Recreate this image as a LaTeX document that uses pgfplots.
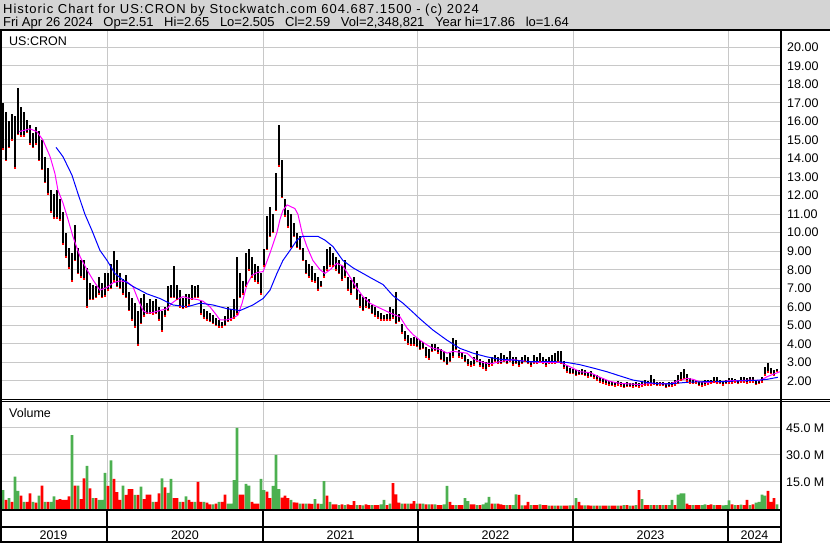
\documentclass[border=0pt]{standalone}
\usepackage{pgfplots}
\pgfplotsset{compat=1.18}
\usepackage{pgfplotstable}
\usepackage{fontspec}
\setmainfont{Liberation Sans}
\newfontfamily\hdrwide[LetterSpace=7.5]{Liberation Sans}
\definecolor{hdr}{RGB}{212,212,212}
\definecolor{gridc}{RGB}{200,200,200}
\definecolor{vgreen}{RGB}{76,176,80}
\definecolor{vred}{RGB}{255,0,0}
\definecolor{mag}{RGB}{255,0,255}
\definecolor{mab}{RGB}{0,0,255}

% weekly high / low, x = week index (3 px per week)
\pgfplotstableread{
w hi lo
0 17.4 16.0
1 17.0 14.5
2 16.5 13.9
3 16.0 14.6
4 16.4 15.0
5 16.3 13.5
6 17.8 15.3
7 16.8 15.2
8 16.5 15.2
9 16.1 15.4
10 15.8 14.8
11 15.4 14.6
12 15.7 14.8
13 15.5 13.9
14 15.0 13.4
15 14.1 12.7
16 13.5 12.1
17 12.3 11.1
18 12.1 10.8
19 12.3 10.8
20 11.8 10.7
21 11.1 9.4
22 10.0 8.7
23 9.2 8.1
24 8.9 7.4
25 10.4 8.5
26 9.2 7.8
27 8.5 7.6
28 8.5 7.5
29 8.1 6.0
30 7.3 6.4
31 7.2 6.4
32 7.1 6.5
33 7.6 6.7
34 7.3 6.5
35 7.8 6.6
36 7.8 6.9
37 8.3 7.0
38 9.0 7.4
39 8.5 7.1
40 7.8 7.0
41 7.5 6.7
42 7.7 6.5
43 6.8 5.8
44 6.5 5.3
45 6.2 4.9
46 5.8 3.95
47 6.5 5.1
48 6.7 5.5
49 6.2 5.65
50 6.4 5.65
51 6.3 5.6
52 6.4 5.65
53 6.0 5.3
54 5.8 4.7
55 6.0 5.5
56 7.1 5.8
57 7.2 6.5
58 8.2 6.5
59 7.2 6.4
60 6.9 6.0
61 6.5 5.9
62 6.7 6.0
63 6.7 6.1
64 7.2 6.4
65 7.1 6.5
66 7.2 6.5
67 6.3 5.6
68 5.9 5.4
69 5.8 5.3
70 5.65 5.2
71 5.55 5.1
72 5.4 5.0
73 5.3 4.9
74 5.2 4.9
75 5.5 5.0
76 6.0 5.2
77 5.9 5.3
78 6.4 5.4
79 8.7 5.6
80 7.8 6.5
81 7.4 6.7
82 8.9 7.1
83 9.1 8.0
84 8.7 7.6
85 8.3 7.4
86 8.2 7.3
87 7.8 6.7
88 9.1 8.2
89 10.9 9.1
90 11.4 9.8
91 11.0 10.0
92 13.2 11.2
93 15.8 13.6
94 13.9 11.9
95 11.8 10.9
96 11.2 10.3
97 11.0 9.2
98 10.5 9.8
99 10.0 9.2
100 9.8 9.1
101 9.2 8.5
102 8.5 7.8
103 8.3 7.6
104 8.2 7.4
105 7.8 7.35
106 7.6 6.9
107 7.4 7.1
108 8.2 7.6
109 9.1 8.0
110 9.25 8.2
111 8.9 8.2
112 8.7 8.0
113 8.5 7.8
114 8.2 7.45
115 8.5 7.6
116 7.6 6.9
117 7.45 6.7
118 7.6 7.0
119 7.3 6.4
120 6.7 6.0
121 6.55 5.8
122 6.55 6.0
123 6.4 5.9
124 6.1 5.65
125 6.0 5.5
126 5.8 5.4
127 5.65 5.3
128 5.55 5.3
129 5.6 5.3
130 6.0 5.3
131 5.9 5.4
132 6.8 5.1
133 5.6 5.2
134 5.1 4.6
135 4.7 4.2
136 4.5 4.0
137 4.3 3.95
138 4.4 3.95
139 4.3 3.85
140 4.2 3.7
141 4.1 3.75
142 3.85 3.3
143 3.75 3.2
144 4.0 3.6
145 4.0 3.65
146 3.85 3.5
147 3.7 3.15
148 3.6 3.05
149 3.3 2.9
150 3.5 3.05
151 4.3 3.3
152 4.2 3.7
153 3.65 3.3
154 3.5 3.25
155 3.4 3.05
156 3.2 2.85
157 3.1 2.8
158 3.3 2.85
159 3.6 3.05
160 3.2 2.8
161 3.1 2.7
162 3.0 2.6
163 3.2 2.8
164 3.3 2.85
165 3.4 3.05
166 3.3 2.95
167 3.5 2.95
168 3.4 3.05
169 3.3 2.95
170 3.6 3.05
171 3.3 2.85
172 3.3 2.95
173 3.1 2.8
174 3.3 2.95
175 3.4 3.05
176 3.3 2.95
177 3.1 2.8
178 3.4 2.95
179 3.3 2.95
180 3.5 3.05
181 3.3 2.95
182 3.2 2.8
183 3.3 2.95
184 3.4 2.95
185 3.5 2.95
186 3.6 3.05
187 3.6 2.95
188 3.1 2.7
189 2.85 2.5
190 2.7 2.4
191 2.65 2.4
192 2.6 2.3
193 2.6 2.35
194 2.65 2.35
195 2.6 2.3
196 2.5 2.2
197 2.55 2.25
198 2.4 2.15
199 2.3 2.05
200 2.23 1.96
201 2.15 1.9
202 2.05 1.85
203 2.0 1.8
204 1.96 1.75
205 1.96 1.73
206 2.0 1.8
207 1.96 1.73
208 1.87 1.64
209 1.96 1.7
210 1.9 1.7
211 1.9 1.67
212 1.96 1.7
213 1.9 1.66
214 1.96 1.72
215 2.05 1.78
216 2.0 1.8
217 2.3 1.78
218 2.1 1.82
219 1.96 1.75
220 1.96 1.78
221 1.95 1.75
222 1.9 1.64
223 1.95 1.7
224 1.96 1.72
225 2.05 1.78
226 2.32 1.87
227 2.5 2.05
228 2.63 2.14
229 2.4 2.0
230 2.14 1.9
231 2.05 1.87
232 2.08 1.9
233 1.96 1.75
234 1.93 1.72
235 2.05 1.8
236 2.05 1.85
237 2.08 1.9
238 2.23 1.96
239 2.2 1.9
240 2.05 1.87
241 2.0 1.8
242 2.05 1.87
243 2.14 1.9
244 2.14 1.9
245 2.1 1.96
246 2.05 1.87
247 2.2 1.96
248 2.23 1.96
249 2.14 1.9
250 2.23 1.96
251 2.23 1.96
252 2.05 1.82
253 2.05 1.87
254 2.2 1.96
255 2.77 2.32
256 2.95 2.5
257 2.7 2.4
258 2.6 2.3
259 2.65 2.505
}\price

\begin{document}
\fontsize{12.5}{14}\selectfont
\begin{tikzpicture}[x=1pt,y=1pt]
\useasboundingbox (0,0) rectangle (830,543);
\fill[hdr] (0,513) rectangle (830,543);
\node[anchor=base west, inner sep=0pt] at (3,529.7) {\hdrwide\fontsize{13}{15}\selectfont Historic Chart for US:CRON by Stockwatch.com 604.687.1500 - (c) 2024};
\node[anchor=base west, inner sep=0pt] at (3,516.3) {\fontsize{13}{15}\selectfont Fri Apr 26 2024\hspace{7pt} Op=2.51\hspace{7pt} Hi=2.65\hspace{7pt} Lo=2.505\hspace{7pt} Cl=2.59\hspace{7pt} Vol=2,348,821\hspace{7pt} Year hi=17.86\hspace{7pt} lo=1.64};

\begin{axis}[at={(0pt,143pt)}, anchor=south west, scale only axis,
  width=780pt, height=369pt, xmin=0, xmax=260, ymin=0.975, ymax=20.88,
  axis line style={draw=none}, major tick length=0pt,
  xtick={35.67,87.67,139.33,191,242.67}, xticklabels={},
  ytick={2,3,4,5,6,7,8,9,10,11,12,13,14,15,16,17,18,19,20},
  yticklabels={2.00,3.00,4.00,5.00,6.00,7.00,8.00,9.00,10.00,11.00,12.00,13.00,14.00,15.00,16.00,17.00,18.00,19.00,20.00},
  yticklabel pos=right,
  yticklabel style={anchor=west, inner sep=0pt, xshift=7pt, font=\fontsize{12.5}{14}\selectfont},
  grid=major, grid style={gridc, line width=1pt}]
\addplot[black, line width=2.8pt, mark=none, -, quiver={u=0, v=\thisrow{hi}-\thisrow{lo}}] table[x=w, y=lo] {\price};
\addplot[vred, only marks, mark=-, mark size=1.3pt, mark options={line width=1.6pt}] table[x=w, y=lo] {\price};
\addplot[mag, line width=1pt, mark=none] coordinates {
(6.3,15.45)(10,15.6)(12.3,15.45)(14.3,15.0)(16.7,14.1)(18.3,13.2)(19.3,12.3)(21,11.6)(22.7,10.7)(24.3,9.8)(26.7,8.7)(29,8.0)(31,7.45)(33.3,6.9)(35.7,7.05)(37.7,7.3)(40,7.4)(42.3,7.35)(44.3,7.1)(46,6.4)(47.7,5.8)(49,5.65)(51,5.7)(53.3,5.8)(55.7,5.9)(57.3,6.2)(59,6.4)(61,6.55)(63.3,6.45)(65.7,6.4)(67.7,6.3)(70,6.0)(71.7,5.65)(73.3,5.3)(75.7,5.3)(77.7,5.4)(79.3,5.55)(80.7,6.2)(82.3,7.2)(84,7.7)(85.7,7.85)(87.7,7.9)(90,8.9)(92.3,10.0)(93.3,10.7)(94.3,11.2)(95.7,11.5)(98.3,11.3)(99.3,11.0)(100.7,10.0)(102.3,9.25)(104.3,8.5)(106.7,8.0)(108.3,7.8)(110,8.0)(112.3,8.35)(114.3,8.2)(116.7,7.6)(119,7.0)(121,6.55)(123.3,6.2)(125.7,6.0)(127.7,5.85)(131,5.6)(133.3,5.47)(135.7,4.85)(137.7,4.5)(140,4.2)(142.3,3.95)(144.3,3.76)(146.7,3.7)(149,3.5)(151,3.6)(153.3,3.55)(155.7,3.5)(157.7,3.2)(160,3.05)(162.3,2.95)(164.3,2.95)(166.7,3.05)(171,3.15)(175.7,3.05)(180,3.0)(184.3,3.0)(186.7,3.0)(190,2.77)(193.3,2.5)(196.7,2.45)(200,2.2)(203.3,1.98)(206.7,1.87)(210,1.84)(213.3,1.8)(216.7,1.86)(220,1.87)(223.3,1.84)(226.7,2.05)(229,2.14)(231,2.09)(233.3,1.96)(236.7,1.91)(240,1.96)(243.3,2.02)(246.7,2.02)(250,2.05)(253.3,2.02)(255.7,2.23)(257.7,2.36)(260,2.5)};
\addplot[mab, line width=1pt, mark=none] coordinates {
(18.7,14.6)(21,14.1)(24,13.1)(26,12.1)(28.3,11.0)(30.7,10.1)(33.3,9.05)(35.7,8.5)(38.3,7.8)(41,7.45)(44.3,7.1)(49,6.7)(53.3,6.45)(57.7,6.1)(62.3,6.0)(66.7,6.2)(71,6.1)(75.7,5.9)(80,5.8)(84.3,6.1)(87.7,6.45)(90,6.9)(92.3,7.8)(94.3,8.5)(96.7,9.05)(99,9.6)(100.7,9.8)(103.3,9.8)(106,9.8)(108.3,9.6)(111,9.25)(114.3,8.5)(117.7,8.1)(121,7.8)(124.3,7.5)(127.7,7.2)(131,6.6)(134.3,6.2)(137.7,5.7)(140,5.35)(144.3,4.75)(149,4.2)(153.3,3.76)(157.7,3.5)(162.3,3.3)(166.7,3.17)(171,3.13)(175.7,3.05)(180,3.05)(184.3,3.05)(189,3.0)(193.3,2.88)(197.7,2.7)(202.3,2.5)(206.7,2.27)(211,2.05)(215.7,1.92)(220,1.84)(224.3,1.86)(229,1.93)(234.3,1.96)(240,1.96)(245.7,2.0)(251,2.02)(255.7,2.09)(259.3,2.2)};
\end{axis}

\begin{axis}[at={(0pt,34pt)}, anchor=south west, scale only axis,
  width=780pt, height=107pt, xmin=0, xmax=260, ymin=0, ymax=59.4,
  axis line style={draw=none}, major tick length=0pt,
  xtick={35.67,87.67,139.33,191,242.67}, xticklabels={},
  ytick={15,30,45}, yticklabels={15.0 M,30.0 M,45.0 M},
  yticklabel pos=right,
  yticklabel style={anchor=west, inner sep=0pt, xshift=6pt, font=\fontsize{12.5}{14}\selectfont},
  grid=major, grid style={gridc, line width=1pt}]
\addplot[ybar, bar width=2.8pt, bar shift=0pt, fill=vgreen, draw=none] coordinates {
(1,10.5)(3,6)(5,18)(6,10)(8,4)(11,4)(13,7.4)(15,4)(17,4)(18,7)(24,41)(26,13)(29,24)(31,6)(33,5)(34,5)(35,20)(37,27)(41,13)(45,7.8)(47,12.4)(51,4)(54,17)(56,9)(57,16.7)(60,4)(62,7)(65,4)(68,4)(71,2.6)(73,4)(76,3)(77,3)(78,16)(79,45)(82,14)(83,13)(87,16.7)(88,10.5)(91,12.8)(92,30)(93,11)(97,5)(100,3)(102,3)(105,5.5)(107,2.8)(108,15.5)(110,4)(113,2.2)(115,2.2)(119,2.2)(121,2)(124,2.2)(127,2.5)(128,5)(130,3)(134,3)(136,3)(139,3)(141,3)(143,2.6)(145,2.6)(148,2.6)(149,12.8)(152,2.2)(155,6)(156,4.4)(159,2.2)(161,2.6)(162,3.5)(163,6.7)(165,3)(169,2.2)(171,2.2)(172,8.1)(174,2)(177,2.2)(180,2.6)(183,1.9)(185,1.9)(187,1.9)(190,2)(192,6)(195,2)(198,1.9)(200,1.9)(203,1.9)(206,1.9)(208,2.2)(210,1.9)(212,2.2)(214,5.5)(217,2.2)(219,2.2)(221,2.2)(223,2.2)(224,5)(226,8)(227,8.7)(228,8.7)(231,2.2)(234,2.2)(235,2.6)(238,2.2)(241,2)(242,2.2)(243,4.8)(245,2.2)(247,2.4)(250,2.2)(252,3.5)(253,4)(254,8)(255,7.4)(259,2.5)};
\addplot[ybar, bar width=2.8pt, bar shift=0pt, fill=vred, draw=none] coordinates {
(0,5)(2,5)(4,4)(7,7.4)(9,4)(10,8.7)(12,3.5)(14,13)(16,4)(19,5)(20,5.5)(21,5)(22,5)(23,7)(25,13)(27,5.5)(28,17)(30,11.5)(32,6)(36,12.8)(38,16.7)(39,9.3)(40,5)(42,7.8)(43,11)(44,11)(46,7.8)(48,5.5)(49,8)(50,8)(52,4)(53,8.7)(55,12)(58,6)(59,6)(61,4)(63,5)(64,4)(66,15)(67,4)(69,3.5)(70,2.6)(72,3)(74,4)(75,8)(80,8)(81,8)(84,4)(85,3)(86,3)(89,9.6)(90,6)(94,6.3)(95,7.4)(96,6)(98,3.7)(99,3.5)(101,3)(103,3)(104,2.8)(106,3)(109,7.4)(111,2.5)(112,2.5)(114,2.5)(116,2.5)(117,2.2)(118,4.4)(120,2.2)(122,2.5)(123,2.2)(125,2.2)(126,2.2)(129,2.2)(131,14.4)(132,8.1)(133,3.5)(135,3)(137,3)(138,4.4)(140,3)(142,2.6)(144,2.6)(146,2.2)(147,2.2)(150,4)(151,2.2)(153,2.2)(154,2.2)(157,2.6)(158,2.6)(160,2.2)(164,3)(166,3)(167,2.5)(168,2.2)(170,2.2)(173,7.8)(175,2)(176,4)(178,2.2)(179,2.2)(181,2.2)(182,2.2)(184,1.9)(186,1.9)(188,1.9)(189,1.9)(191,2)(193,4)(194,2)(196,2)(197,1.9)(199,1.9)(201,1.9)(202,1.9)(204,1.9)(205,1.9)(207,1.9)(209,2.2)(211,1.9)(213,10.5)(215,2.2)(216,2.2)(218,2.2)(220,2.2)(222,2.2)(225,2.2)(229,3)(230,2.2)(232,2.2)(233,2.2)(236,2.2)(237,2.6)(239,2.2)(240,2.2)(244,2.6)(246,2.2)(248,2.2)(249,5)(251,2.6)(256,10)(257,4)(258,6)};
\end{axis}

% labels and frame
\node[anchor=base west, inner sep=0pt] at (9,497) {US:CRON};
\node[anchor=base west, inner sep=0pt] at (9,125) {Volume};
\draw[line width=2pt] (0,512.5) -- (830,512.5);
\draw[line width=1pt] (0,143.5) -- (830,143.5);
\draw[line width=1pt] (0,141) -- (830,141);
\draw[line width=2pt] (0,33) -- (781,33);
\draw[line width=2pt] (0,16) -- (781,16);
\draw[line width=2pt] (0,1) -- (781,1);
\draw[line width=2pt] (1,0) -- (1,512.5);
\draw[line width=2pt] (781,0) -- (781,512.5);
\foreach \xx in {107,263,418,573,728} \draw[line width=2pt] (\xx,0) -- (\xx,33);
\foreach \xx/\yy in {53.5/2019,185/2020,340.5/2021,495.5/2022,650.5/2023,754.5/2024}
  \node[anchor=base, inner sep=0pt] at (\xx,3.5) {\yy};
\end{tikzpicture}
\end{document}
